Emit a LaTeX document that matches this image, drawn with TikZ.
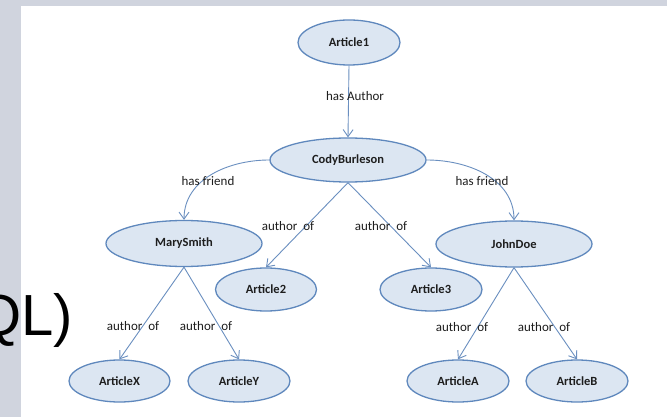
\documentclass[tikz,border=0pt]{standalone}
\usepackage{fontspec}
\setmainfont{Carlito}
\newfontfamily\qlfont{Liberation Sans}
\usetikzlibrary{shapes.geometric,arrows.meta}
\definecolor{slidegray}{HTML}{D0D4DE}
\definecolor{nodefill}{HTML}{DCE6F2}
\definecolor{nodeline}{HTML}{5F88BD}
\definecolor{edgeline}{HTML}{6A8FC0}
\definecolor{txt}{HTML}{1E1E1E}
\tikzset{
  ent/.style={ellipse, draw=nodeline, fill=nodefill, line width=1.3pt, inner sep=0pt,
    text=txt, font=\bfseries\fontsize{12.5}{14}\selectfont},
  rel/.style={draw=edgeline, line width=0.9pt, -{Straight Barb[length=7pt,width=10pt]}},
  lbl/.style={inner sep=0pt, text=txt, font=\fontsize{13}{15}\selectfont}
}
\begin{document}
\begin{tikzpicture}[x=1pt,y=-1pt]
\useasboundingbox (0,0) rectangle (667,417);
\fill[slidegray] (0,0) rectangle (667,417);
\fill[white] (21,6) rectangle (667,417);
\node[anchor=base east, inner sep=0pt, font=\qlfont\fontsize{58}{60}\selectfont] (ql) at (73,335) {QL)};

\node[ent, minimum width=102pt, minimum height=45pt] (a1) at (349,42.5) {Article1};
\node[ent, minimum width=156pt, minimum height=44pt] (cody) at (348,160) {CodyBurleson};
\node[ent, minimum width=156pt, minimum height=46pt] (mary) at (184,243.5) {MarySmith};
\node[ent, minimum width=156pt, minimum height=46pt] (john) at (514,244) {JohnDoe};
\node[ent, minimum width=101pt, minimum height=43pt] (a2) at (266,289.5) {Article2};
\node[ent, minimum width=102pt, minimum height=43pt] (a3) at (431,289.5) {Article3};
\node[ent, minimum width=101pt, minimum height=42pt] (ax) at (119.5,381) {ArticleX};
\node[ent, minimum width=102pt, minimum height=42pt] (ay) at (239,381) {ArticleY};
\node[ent, minimum width=102pt, minimum height=42pt] (aa) at (458,381) {ArticleA};
\node[ent, minimum width=102pt, minimum height=42pt] (ab) at (577,381) {ArticleB};

\draw[rel] (a1.south) -- (cody.north);
\draw[rel] (cody.west) to[out=180,in=90] (mary.north);
\draw[rel] (cody.east) to[out=0,in=90] (john.north);
\draw[rel] (cody.south) -- (a2.north);
\draw[rel] (cody.south) -- (a3.north);
\draw[rel] (mary.south) -- (ax.north);
\draw[rel] (mary.south) -- (ay.north);
\draw[rel] (john.south) -- (aa.north);
\draw[rel] (john.south) -- (ab.north);

\node[lbl] (l1) at (355,96) {has Author};
\node[lbl] (l2) at (208,181) {has friend};
\node[lbl] (l3) at (482,181) {has friend};
\node[lbl] (l4) at (288,226) {author~ of};
\node[lbl] (l5) at (381,226) {author~ of};
\node[lbl] (l6) at (133,326) {author~ of};
\node[lbl] (l7) at (206,326) {author~ of};
\node[lbl] (l8) at (462,327) {author~ of};
\node[lbl] (l9) at (544,327) {author~ of};
\end{tikzpicture}
\end{document}
